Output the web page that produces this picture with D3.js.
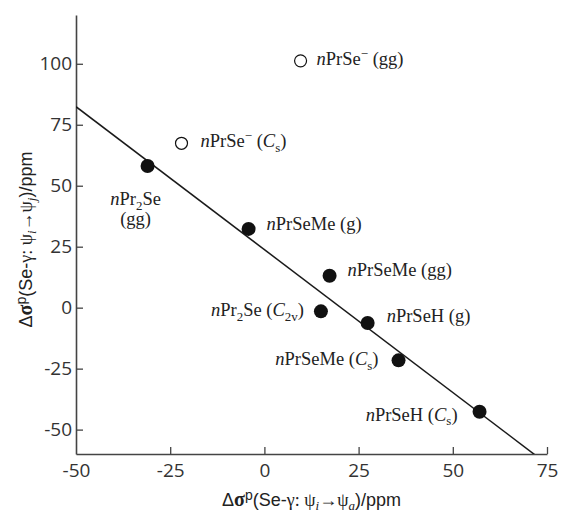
<!DOCTYPE html>
<html>
<head>
<meta charset="utf-8">
<script src="https://cdn.jsdelivr.net/npm/d3@7"></script>
<style>
  body { margin: 0; background: #fff; }
  .tick text { font-family: "Open Sans", "Liberation Sans", sans-serif; fill: #333; }
  .lbl { font-family: "Liberation Serif", "DejaVu Serif", serif; fill: #222; }
</style>
</head>
<body>
<div id="chart"></div>
<script>
// values
const xValues = [9.6, -22.0, -31.0, -4.2, 17.3, 15.0, 27.4, 35.6, 57.1];
const yValues = [101.2, 67.4, 58.1, 32.3, 13.1, -1.5, -6.3, -21.6, -42.7];
const species = [
  "*n*PrSe^−^ (gg)",
  "*n*PrSe^−^ (*C*_s_)",
  "*n*Pr_2_Se\n(gg)",
  "*n*PrSeMe (g)",
  "*n*PrSeMe (gg)",
  "*n*Pr_2_Se (*C*_2v_)",
  "*n*PrSeH (g)",
  "*n*PrSeMe (*C*_s_)",
  "*n*PrSeH (*C*_s_)"
];
const anion = [true, true, false, false, false, false, false, false, false];
const xTicks = [-50, -25, 0, 25, 50, 75];
const yTicks = [-50, -25, 0, 25, 50, 75, 100];
const fitIntercept = 23.8, fitSlope = -1.172;

// where each label sits relative to its point
const placement = [
  {anchor: "start", dx: 16, dy: 4},
  {anchor: "start", dx: 19, dy: 4},
  {anchor: "middle", dx: -12, dy: 39, lead: 20},
  {anchor: "start", dx: 18, dy: 1},
  {anchor: "start", dx: 18, dy: 0},
  {anchor: "end", dx: -17, dy: 5},
  {anchor: "start", dx: 19, dy: -1},
  {anchor: "end", dx: -20, dy: 5},
  {anchor: "end", dx: -22, dy: 9}
];

const width = 562, height = 512;
const m = {left: 76, right: 15, top: 15, bottom: 58};
const labelSize = 18.5;

const x = d3.scaleLinear().domain([-50, 75]).range([m.left, width - m.right]);
const y = d3.scaleLinear().domain([-60, 120]).range([height - m.bottom, m.top]);

const svg = d3.select("#chart").append("svg")
  .attr("width", width).attr("height", height);

// axes, ticks inside
const fmt = d => String(d);
const xAxis = svg.append("g")
  .attr("transform", `translate(0,${y(-60)})`)
  .call(d3.axisBottom(x).tickValues(xTicks).tickFormat(fmt)
    .tickSizeInner(-7).tickSizeOuter(0).tickPadding(10));
const yAxis = svg.append("g")
  .attr("transform", `translate(${x(-50)},0)`)
  .call(d3.axisLeft(y).tickValues(yTicks).tickFormat(fmt)
    .tickSizeInner(-7).tickSizeOuter(0).tickPadding(4));

[xAxis, yAxis].forEach(a => {
  a.select(".domain").attr("stroke", "#444").attr("stroke-width", 1.6);
  a.selectAll(".tick line").attr("stroke", "#444").attr("stroke-width", 1.3);
  a.selectAll(".tick text").style("font-size", "19px");
});
xAxis.selectAll(".tick text").attr("dy", "0.71em");
// no tick at the axis corner on the x axis
xAxis.selectAll(".tick").filter(d => d === -50).select("line").remove();

// fitted line, clipped to the frame
svg.append("clipPath").attr("id", "frame").append("rect")
  .attr("x", x(-50)).attr("y", y(120))
  .attr("width", x(75) - x(-50)).attr("height", y(-60) - y(120));
const fitX = [-50, 75];
svg.append("path")
  .attr("clip-path", "url(#frame)")
  .attr("d", d3.line().x(d => x(d)).y(d => y(fitIntercept + fitSlope * d))(fitX))
  .attr("stroke", "#1a1a1a").attr("stroke-width", 1.5).attr("fill", "none");

// points
const pts = xValues.map((v, i) => ({x: v, y: yValues[i], anion: anion[i], label: species[i], p: placement[i]}));
svg.append("g").selectAll("circle").data(pts).join("circle")
  .attr("cx", d => x(d.x)).attr("cy", d => y(d.y))
  .attr("r", d => d.anion ? 6 : 7)
  .attr("fill", d => d.anion ? "#fff" : "#111")
  .attr("stroke", "#111").attr("stroke-width", d => d.anion ? 1.2 : 0);

// tiny markup: *italic*, _sub_, ^sup^ ; "\n" starts a new line in the same <text>
function addRich(textSel, str, size, x0, lead) {
  const re = /(\*[^*]+\*|_[^_]+_|\^[^^]+\^|[^*_^]+)/g;
  str.split("\n").forEach((ln, k) => {
    let shift = 0, first = true;
    (ln.match(re) || []).forEach(tok => {
      let t = tok, style = "normal", base = 0, fs = size;
      if (tok[0] === "*") { t = tok.slice(1, -1); style = "italic"; }
      else if (tok[0] === "_") { t = tok.slice(1, -1); base = size * 0.25; fs = size * 0.7; }
      else if (tok[0] === "^") { t = tok.slice(1, -1); base = -size * 0.38; fs = size * 0.7; }
      const ts = textSel.append("tspan")
        .attr("dy", base - shift + (first && k > 0 ? lead : 0))
        .style("font-style", style).style("font-size", fs + "px")
        .text(t);
      if (first && k > 0) ts.attr("x", x0);
      first = false;
      shift = base;
    });
    if (shift) textSel.append("tspan").attr("dy", -shift).text("\u200b");
  });
}

const lg = svg.append("g");
pts.forEach(d => {
  const x0 = x(d.x) + d.p.dx;
  const t = lg.append("text").attr("class", "lbl")
    .attr("x", x0)
    .attr("y", y(d.y) + d.p.dy)
    .attr("text-anchor", d.p.anchor)
    .style("font-size", labelSize + "px");
  addRich(t, d.label, labelSize, x0, d.p.lead || 0);
});

// axis titles
function axisTitle(g, sub) {
  const sans = "'Liberation Sans', Arial, sans-serif", serif = "'Liberation Serif', serif";
  const parts = [
    ["Δ", sans, "normal", "normal", 0, 18],
    ["σ", serif, "bold", "normal", 0, 20],
    ["p", sans, "normal", "normal", -6, 14],
    ["(Se-", sans, "normal", "normal", 6, 18],
    ["γ: ψ", serif, "normal", "normal", 0, 18],
    ["i", serif, "normal", "italic", 4, 13],
    ["→", serif, "normal", "normal", -4, 18],
    ["ψ", serif, "normal", "normal", 0, 18],
    [sub, serif, "normal", "italic", 4, 13],
    [")/ppm", sans, "normal", "normal", -4, 18]
  ];
  parts.forEach(([t, f, w, s, dy, fs]) => {
    g.append("tspan").attr("dy", dy)
      .style("font-family", f).style("font-weight", w).style("font-style", s)
      .style("font-size", fs + "px").attr("fill", "#222").text(t);
  });
}
const xt = svg.append("text").attr("text-anchor", "middle")
  .attr("x", (x(-50) + x(75)) / 2).attr("y", 506);
axisTitle(xt, "a");
const yt = svg.append("text").attr("text-anchor", "middle")
  .attr("transform", `translate(32,${(y(-60) + y(120)) / 2 + 5}) rotate(-90)`);
axisTitle(yt, "j");
</script>
</body>
</html>
